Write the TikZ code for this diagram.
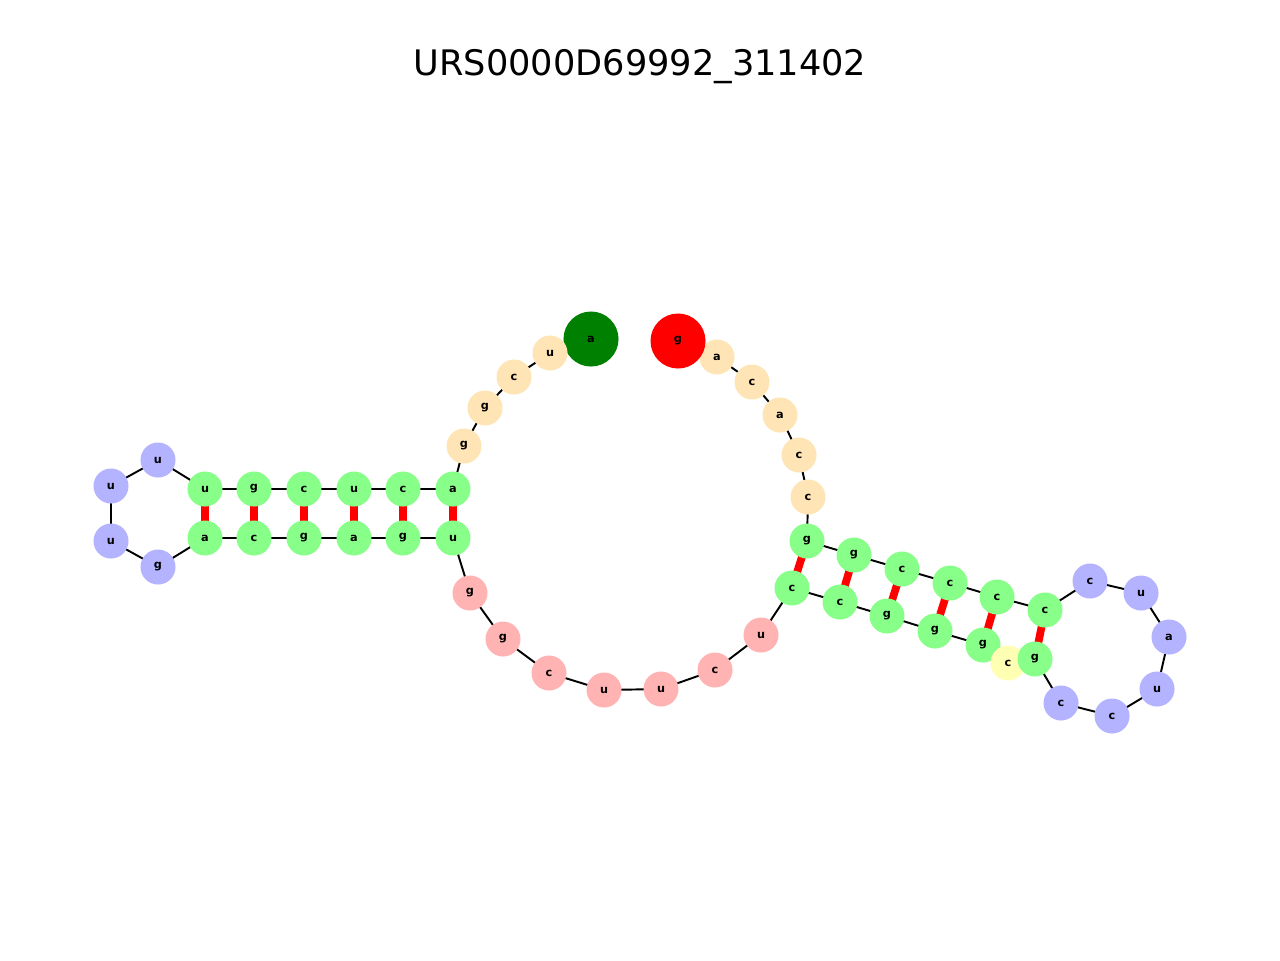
\documentclass[tikz,border=0pt]{standalone}
\usepackage{fontspec}
\setmainfont{DejaVu Sans}
\begin{document}
\begin{tikzpicture}[x=0.01cm,y=-0.01cm,
 nt/.style={circle,minimum size=0.35cm,inner sep=0pt,font=\fontsize{3.2}{4}\selectfont\bfseries},
 big/.style={circle,minimum size=0.55cm,inner sep=0pt,font=\fontsize{3.2}{4}\selectfont\bfseries},
 bb/.style={line width=0.55pt,black},
 pr/.style={line width=2.2pt,red}]
\useasboundingbox (0,0) rectangle (1280,960);
\node at (640,67) {\fontsize{10}{12}\selectfont URS0000D69992\_311402};
\definecolor{cg}{HTML}{88FF88}\definecolor{cb}{HTML}{B3B3FF}\definecolor{cp}{HTML}{FFB3B3}
\definecolor{co}{HTML}{FFE4B5}\definecolor{cy}{HTML}{FFFFB3}\definecolor{dg}{HTML}{008000}
\def\seq{n1/591/339/a/dg/big, n2/550/353/u/co/nt, n3/514/377/c/co/nt, n4/485/408/g/co/nt, n5/464/446/g/co/nt,
n6/453/489/a/cg/nt, n7/403/489/c/cg/nt, n8/354/489/u/cg/nt, n9/304/489/c/cg/nt, n10/254/489/g/cg/nt, n11/205/489/u/cg/nt,
n12/158/460/u/cb/nt, n13/111/486/u/cb/nt, n14/111/541/u/cb/nt, n15/158/567/g/cb/nt,
n16/205/538/a/cg/nt, n17/254/538/c/cg/nt, n18/304/538/g/cg/nt, n19/354/538/a/cg/nt, n20/403/538/g/cg/nt, n21/453/538/u/cg/nt,
n22/470/593/g/cp/nt, n23/503/639/g/cp/nt, n24/549/673/c/cp/nt, n25/604/690/u/cp/nt, n26/661/689/u/cp/nt, n27/715/670/c/cp/nt, n28/761/635/u/cp/nt,
n29/792/588/c/cg/nt, n30/840/602/c/cg/nt, n31/887/616/g/cg/nt, n32/935/631/g/cg/nt, n33/983/645/g/cg/nt, n34/1008/663/c/cy/nt, n35/1035/659/g/cg/nt,
n36/1061/703/c/cb/nt, n37/1112/716/c/cb/nt, n38/1157/689/u/cb/nt, n39/1169/637/a/cb/nt, n40/1141/593/u/cb/nt, n41/1090/581/c/cb/nt,
n42/1045/610/c/cg/nt, n43/997/597/c/cg/nt, n44/950/583/c/cg/nt, n45/902/569/c/cg/nt, n46/854/555/g/cg/nt, n47/807/541/g/cg/nt,
n48/808/497/c/co/nt, n49/799/455/c/co/nt, n50/780/415/a/co/nt, n51/752/382/c/co/nt, n52/717/357/a/co/nt, n53/678/341/g/red/big}
\foreach \n/\x/\y/\l/\c/\s in \seq {\coordinate (\n) at (\x,\y);}
\foreach \i in {2,...,52} {\pgfmathtruncatemacro\j{\i+1}\draw[bb] (n\i) -- (n\j);}
\foreach \a/\b in {6/21,7/20,8/19,9/18,10/17,11/16,29/47,30/46,31/45,32/44,33/43,35/42} {\draw[pr] (n\a) -- (n\b);}
\foreach \n/\x/\y/\l/\c/\s in \seq {\node[\s,fill=\c] at (\x,\y) {\l};}
\end{tikzpicture}
\end{document}
